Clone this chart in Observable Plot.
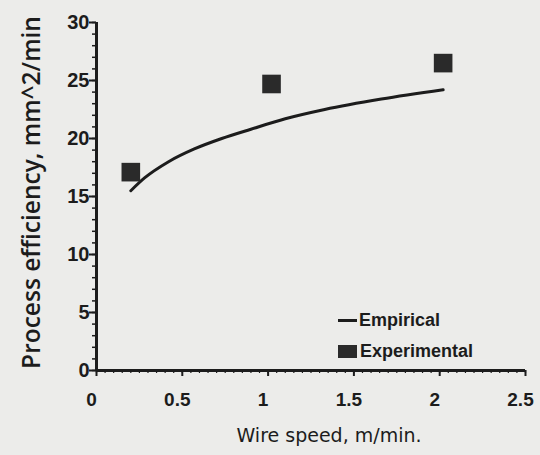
<!DOCTYPE html>
<html>
<head>
<meta charset="utf-8">
<script src="https://cdn.jsdelivr.net/npm/d3@7"></script>
<script src="https://cdn.jsdelivr.net/npm/@observablehq/plot@0.6"></script>
<style>
  html, body { margin: 0; padding: 0; background: #ececea; }
  #wrap { position: relative; width: 540px; height: 455px; overflow: hidden; }
  .leg { position: absolute; font-family: "Liberation Sans", Arial, sans-serif; font-weight: bold; font-size: 18px; color: #1c1c1c; display: flex; align-items: center; }
  .leg .ln { width: 19px; height: 3px; background: #1c1c1c; margin-right: 2px; }
  .leg .sq { width: 19px; height: 13px; background: #2a2a2a; margin-right: 3px; }
</style>
</head>
<body>
<div id="wrap"></div>
<script>
// Experimental measurements (wire speed m/min, efficiency mm^2/min)
const expSpeed = [0.2, 1.02, 2.02];
const expEff = [17.1, 24.7, 26.5];
// Empirical curve readings
const empSpeed = [0.2, 0.28, 0.42, 0.57, 0.73, 0.9, 1.1, 1.33, 1.66, 2.02];
const empEff = [15.5, 16.6, 18.0, 19.1, 20.0, 20.8, 21.7, 22.5, 23.4, 24.2];
const xTicks = [0, 0.5, 1, 1.5, 2, 2.5];
const yTicks = [0, 5, 10, 15, 20, 25, 30];
const xTitle = "Wire speed, m/min.";
const yTitle = "Process efficiency, mm^2/min";
const legendLabels = ["Empirical", "Experimental"];

const expData = expSpeed.map((x, i) => ({x, y: expEff[i]}));
const empData = empSpeed.map((x, i) => ({x, y: empEff[i]}));
const ink = "#1c1c1c";

const chart = Plot.plot({
  width: 540,
  height: 455,
  marginLeft: 96,
  marginRight: 15,
  marginTop: 22,
  marginBottom: 85,
  style: {background: "transparent", color: ink},
  x: {domain: [0, 2.5]},
  y: {domain: [0, 30]},
  marks: [
    Plot.axisY(d3.range(0, 30.01, 1), {tickSize: 4, text: null, strokeWidth: 1.5, label: null}),
    Plot.axisY(yTicks, {tickSize: 7, tickPadding: 0, fontSize: 20, fontWeight: "bold", fontFamily: "Liberation Sans, Arial, sans-serif", strokeWidth: 2, label: null}),
    Plot.axisX(d3.range(0, 2.501, 0.05), {tickSize: 3, text: null, strokeWidth: 1.2, label: null}),
    Plot.axisX(xTicks, {tickSize: 6, text: null, strokeWidth: 2, label: null}),
    Plot.axisX(xTicks, {tickSize: 0, tickPadding: 22, dx: -5, fontSize: 19, fontWeight: "bold", tickFormat: d => String(d), fontFamily: "Liberation Sans, Arial, sans-serif", label: null}),
    Plot.ruleX([0], {stroke: ink, strokeWidth: 3}),
    Plot.ruleY([0], {stroke: ink, strokeWidth: 3}),
    Plot.line(empData, {x: "x", y: "y", stroke: ink, strokeWidth: 3, curve: "monotone-x"}),
    Plot.dot(expData, {x: "x", y: "y", symbol: "square", r: 10.5, fill: "#2a2a2a", stroke: null}),
    Plot.text([yTitle], {frameAnchor: "left", textAnchor: "middle", dx: -64, dy: -4, rotate: -90, fontSize: 24.5, fontWeight: 600, fontFamily: "Open Sans, sans-serif", fill: ink}),
    Plot.text([xTitle], {frameAnchor: "bottom", dy: 71, dx: 18, fontSize: 19, fontFamily: "DejaVu Sans, sans-serif", fill: ink})
  ]
});

const wrap = document.getElementById("wrap");
wrap.appendChild(chart);

const l1 = document.createElement("div");
l1.className = "leg";
l1.style.left = "338px"; l1.style.top = "310px";
l1.innerHTML = '<span class="ln"></span>' + legendLabels[0];
const l2 = document.createElement("div");
l2.className = "leg";
l2.style.left = "338px"; l2.style.top = "341px";
l2.innerHTML = '<span class="sq"></span>' + legendLabels[1];
wrap.appendChild(l1);
wrap.appendChild(l2);
</script>
</body>
</html>
